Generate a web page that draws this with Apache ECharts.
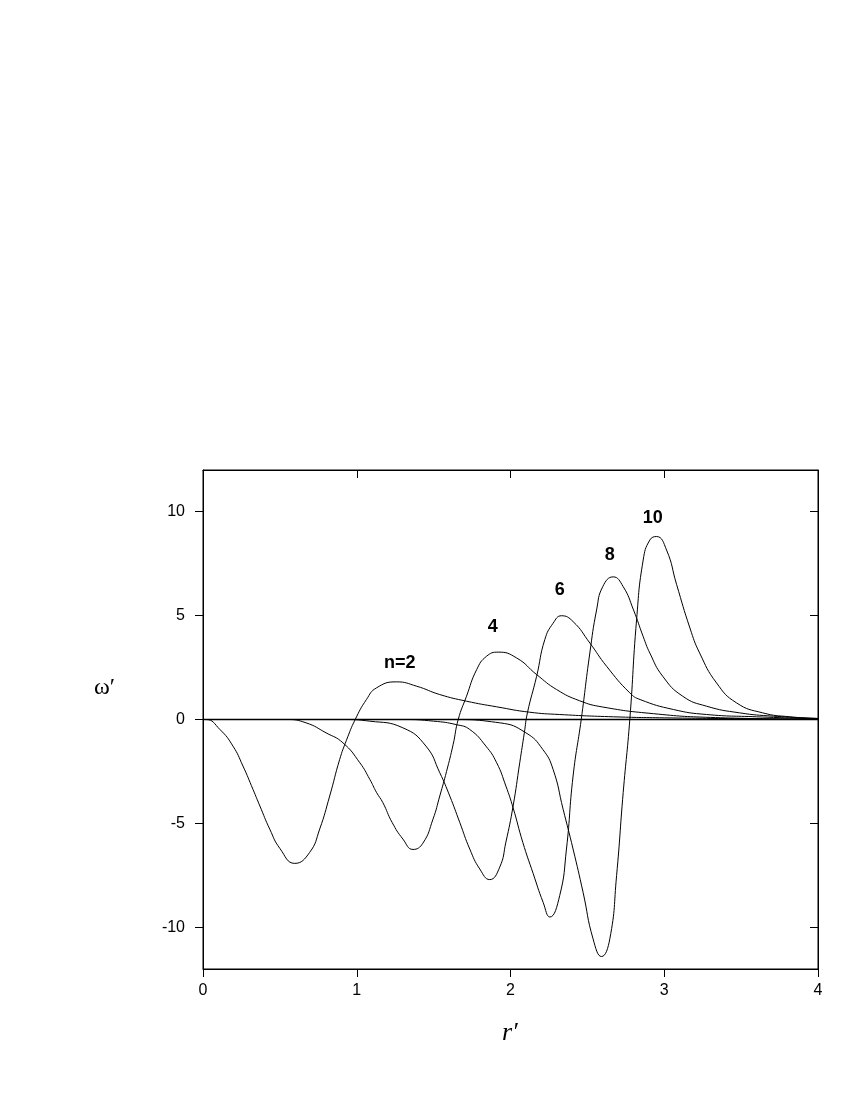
<!DOCTYPE html>
<html>
<head>
<meta charset="utf-8">
<script src="https://cdn.jsdelivr.net/npm/echarts@6/dist/echarts.min.js"></script>
<style>
  html, body { margin: 0; padding: 0; background: #fff; }
  #chart { width: 850px; height: 1100px; }
</style>
</head>
<body>
<div id="chart"></div>
<script>
// tick values
const xTicks = [0, 1, 2, 3, 4];
const yTicks = [-10, -5, 0, 5, 10];

// curves, [r', omega']
const n2 = [[0,0],[0.02,0],[0.11,-0.48],[0.195,-1.28],[0.26,-2.24],[0.325,-3.36],[0.37,-4.16],[0.434,-5.27],[0.5,-6.2],[0.597,-6.92],[0.694,-6.39],[0.759,-5.27],[0.824,-3.68],[0.889,-1.92],[0.933,-1.0],[0.99,0],[1.063,0.96],[1.128,1.52],[1.258,1.81],[1.39,1.6],[1.54,1.2],[1.714,0.88],[1.91,0.61],[2.125,0.35],[2.32,0.24],[2.67,0.13],[3.0,0.08],[3.5,0.04],[4,0.02]];
const n4 = [[0,0],[0.54,0],[0.67,-0.16],[0.8,-0.64],[0.91,-1.12],[1.02,-2.08],[1.085,-2.88],[1.128,-3.5],[1.17,-4.0],[1.23,-4.95],[1.3,-5.75],[1.366,-6.25],[1.43,-5.95],[1.496,-4.79],[1.54,-3.68],[1.584,-2.5],[1.627,-1.2],[1.66,0],[1.714,1.12],[1.78,2.4],[1.844,3.04],[1.92,3.24],[2.04,2.96],[2.17,2.16],[2.3,1.44],[2.45,0.9],[2.6,0.6],[2.93,0.28],[3.3,0.1],[4,0.01]];
const n6 = [[0,0],[0.9,0],[1.085,-0.08],[1.3,-0.4],[1.45,-1.28],[1.54,-2.56],[1.605,-3.68],[1.67,-4.95],[1.735,-6.23],[1.8,-7.19],[1.865,-7.7],[1.93,-7.1],[1.97,-5.9],[2.017,-4.16],[2.06,-2.08],[2.09,-0.64],[2.11,0.32],[2.17,2.08],[2.223,3.84],[2.277,4.63],[2.332,4.99],[2.407,4.71],[2.516,3.68],[2.625,2.56],[2.776,1.28],[2.843,0.96],[3.06,0.48],[3.275,0.24],[3.6,0.13],[4,0.03]];
const n8 = [[0,0],[1.3,0],[1.5,-0.08],[1.65,-0.25],[1.735,-0.48],[1.84,-1.28],[1.91,-2.08],[1.97,-3.2],[2.017,-4.25],[2.08,-5.91],[2.147,-7.4],[2.212,-8.79],[2.256,-9.5],[2.32,-8.47],[2.364,-6.23],[2.407,-2.72],[2.46,0],[2.516,3.2],[2.56,5.27],[2.6,6.39],[2.668,6.86],[2.733,6.39],[2.8,5.27],[2.863,3.99],[2.906,3.2],[2.99,2.08],[3.12,1.12],[3.275,0.64],[3.49,0.32],[3.71,0.16],[4,0.05]];
const n10 = [[0,0],[1.6,0],[1.93,-0.16],[2.1,-0.64],[2.21,-1.44],[2.277,-2.4],[2.342,-4.31],[2.407,-6.23],[2.472,-8.31],[2.537,-10.55],[2.592,-11.4],[2.646,-10.55],[2.69,-7.51],[2.733,-3.51],[2.776,0],[2.82,4.79],[2.863,7.67],[2.906,8.63],[2.95,8.8],[3.015,8.15],[3.08,6.5],[3.167,4.4],[3.23,3.2],[3.34,1.76],[3.47,0.8],[3.64,0.32],[3.817,0.13],[4,0.05]];
const zeroLine = [[0,0],[4,0]];

// curve labels and where they sit
const curveLabels = ['n=2', '4', '6', '8', '10'];
const labelX = [1.28, 1.885, 2.32, 2.645, 2.926];
const labelY = [2.73, 4.46, 6.23, 7.9, 9.68];

const chart = echarts.init(document.getElementById('chart'), null, { renderer: 'canvas' });

const tickFont = { fontFamily: 'Liberation Sans', fontSize: 16, color: '#000' };
const black = { color: '#000', width: 1 };

function curve(data) {
  return {
    type: 'line',
    data: data,
    smooth: 0.5,
    showSymbol: false,
    lineStyle: { color: '#000', width: 1 },
    silent: true,
  };
}

chart.setOption({
  animation: false,
  backgroundColor: '#fff',
  grid: {
    left: 203, top: 470, width: 615, height: 499,
    show: true, borderColor: '#000', borderWidth: 1,
  },
  xAxis: [
    {
      type: 'value', min: 0, max: 4, interval: 1,
      axisLine: { show: true, onZero: false, lineStyle: black },
      axisTick: { show: true, inside: false, length: 8, lineStyle: black },
      axisLabel: { ...tickFont, margin: 14, customValues: xTicks },
      splitLine: { show: false },
    },
    {
      type: 'value', min: 0, max: 4, interval: 1, position: 'top',
      axisLine: { show: true, onZero: false, lineStyle: black },
      axisTick: { show: true, inside: true, length: 8, lineStyle: black },
      axisLabel: { show: false },
      splitLine: { show: false },
    },
  ],
  yAxis: [
    {
      type: 'value', min: -12, max: 12,
      axisLine: { show: true, onZero: false, lineStyle: black },
      axisTick: { show: true, inside: false, length: 8, lineStyle: black, customValues: yTicks },
      axisLabel: { ...tickFont, margin: 18, customValues: yTicks },
      splitLine: { show: false },
    },
    {
      type: 'value', min: -12, max: 12, position: 'right',
      axisLine: { show: true, onZero: false, lineStyle: black },
      axisTick: { show: true, inside: true, length: 8, lineStyle: black, customValues: yTicks },
      axisLabel: { show: false },
      splitLine: { show: false },
    },
  ],
  graphic: [
    {
      type: 'text', left: 94, top: 676,
      style: { text: 'ω′', font: '24px "Liberation Serif"', fill: '#000' },
    },
    {
      type: 'text', left: 502, top: 1020,
      style: { text: 'r′', font: 'italic 26px "Liberation Serif"', fill: '#000' },
    },
  ],
  series: [
    {
      type: 'line', data: zeroLine, showSymbol: false, silent: true,
      lineStyle: { color: '#000', width: 1.5 },
    },
    curve(n2),
    curve(n4),
    curve(n6),
    curve(n8),
    curve(n10),
    {
      type: 'scatter',
      symbolSize: 1,
      silent: true,
      itemStyle: { opacity: 0 },
      data: curveLabels.map((t, i) => [labelX[i], labelY[i], t]),
      label: {
        show: true,
        position: 'inside',
        formatter: (p) => p.value[2],
        fontFamily: 'Liberation Sans',
        fontSize: 18,
        fontWeight: 'bold',
        color: '#000',
        textBorderWidth: 0,
        opacity: 1,
      },
    },
  ],
});
</script>
</body>
</html>
